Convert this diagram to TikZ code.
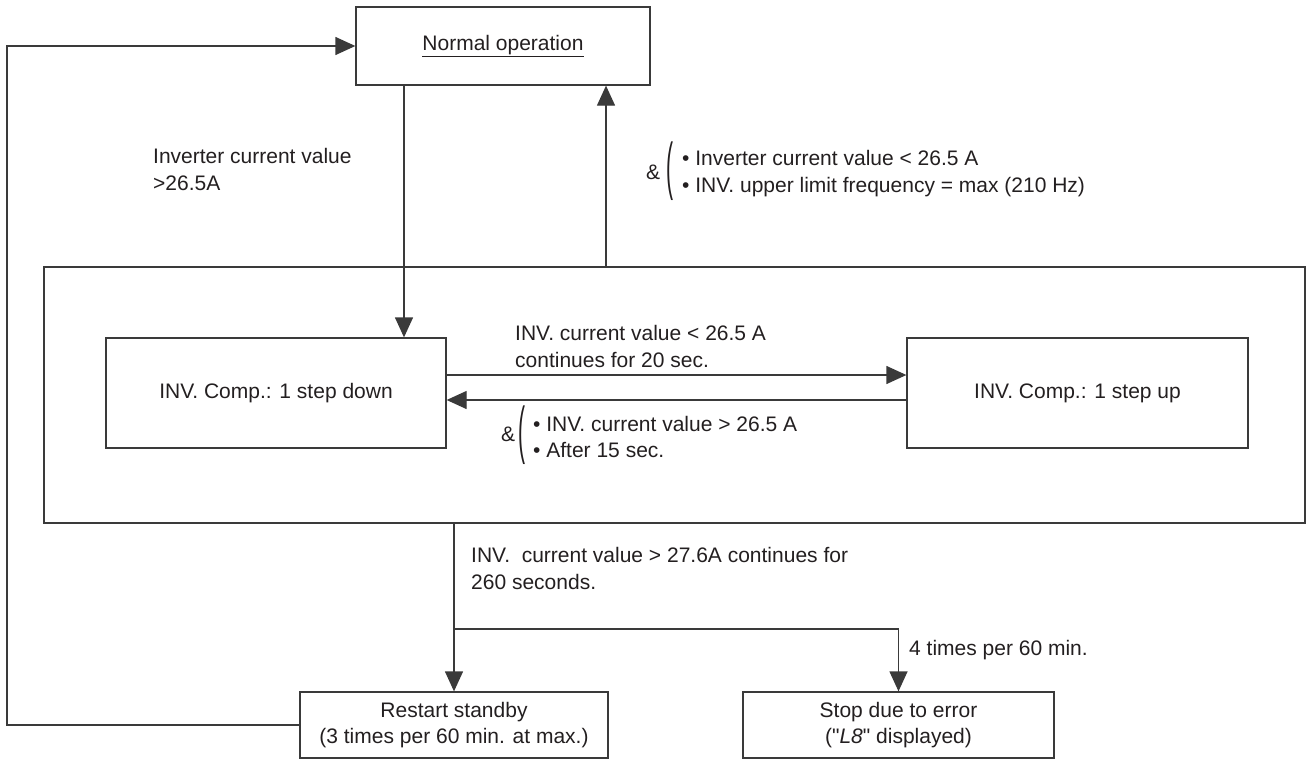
\documentclass[tikz,border=0pt]{standalone}
\usepackage{fontspec}
\setmainfont{Liberation Sans}[Ligatures=TeXOff]
\usetikzlibrary{arrows.meta}
\definecolor{ln}{HTML}{3A3A3A}
\definecolor{tx}{HTML}{231F20}
\tikzset{
  box/.style={draw=ln,line width=1.3pt,inner sep=0pt,align=center,text=tx},
  arr/.style={draw=ln,line width=1.3pt,-{Triangle[length=20pt,width=18pt]}},
  lbl/.style={anchor=north west,align=left,inner sep=0pt,text=tx},
  sym/.style={inner sep=0pt,text=tx}
}
\begin{document}
\begin{tikzpicture}[x=1pt,y=-1pt,font=\fontsize{21}{26.5}\selectfont]
\useasboundingbox (0,0) rectangle (1309,760);
% boxes
\node[box,minimum width=1261pt,minimum height=256pt] (outer) at (674.5,395) {};
\node[box,minimum width=294pt,minimum height=78pt] (norm) at (503,46) {\underline{Normal operation}};
\node[box,minimum width=340pt,minimum height=110pt] (down) at (276,393) {INV. Comp.: 1 step down};
\node[box,minimum width=341pt,minimum height=110pt] (up) at (1077.5,393) {INV. Comp.: 1 step up};
\node[box,minimum width=308pt,minimum height=66pt] (restart) at (454,725) {Restart standby\\(3 times per 60 min. at max.)};
\node[box,minimum width=311pt,minimum height=66pt] (stop) at (898.5,725) {Stop due to error\\("\textit{L8}" displayed)};
% connectors
\coordinate (lx) at (7,0);
\draw[arr] (restart.west) -- (restart.west -| lx) |- (norm.west);
\draw[arr] ([xshift=-99pt]norm.south) -- ([xshift=-99pt]norm.south |- down.north);
\draw[arr] ([xshift=103pt]norm.south |- outer.north) -- ([xshift=103pt]norm.south);
\draw[arr] ([yshift=18pt]down.east) -- ([yshift=18pt]down.east -| up.west);
\draw[arr] ([yshift=-7pt]up.west) -- ([yshift=-7pt]up.west -| down.east);
\draw[arr] (restart.north |- outer.south) -- (restart.north);
\coordinate (br) at (454,629);
\draw[arr] (br) -| (stop.north);
% labels
\node[lbl] (l1) at (153,148.5) {Inverter current value\\>26.5A};
\node[sym] (amp1) at (653,172) {\&};
\node[sym] (par1) at (670,171) {\scalebox{1}[3]{(}};
\node[lbl] (l2) at (682,150.5) {• Inverter current value < 26.5 A\\• INV. upper limit frequency = max (210 Hz)};
\node[lbl] (l3) at (515,325.5) {INV. current value < 26.5 A\\continues for 20 sec.};
\node[sym] (amp2) at (508,434) {\&};
\node[sym] (par2) at (522,435) {\scalebox{1}[3]{(}};
\node[lbl] (l4) at (533,416) {• INV. current value > 26.5 A\\• After 15 sec.};
\node[lbl] (l5) at (471,547.5) {INV.\ \ current value > 27.6A continues for\\260 seconds.};
\node[lbl] (l6) at (909,640) {4 times per 60 min.};
\end{tikzpicture}
\end{document}
